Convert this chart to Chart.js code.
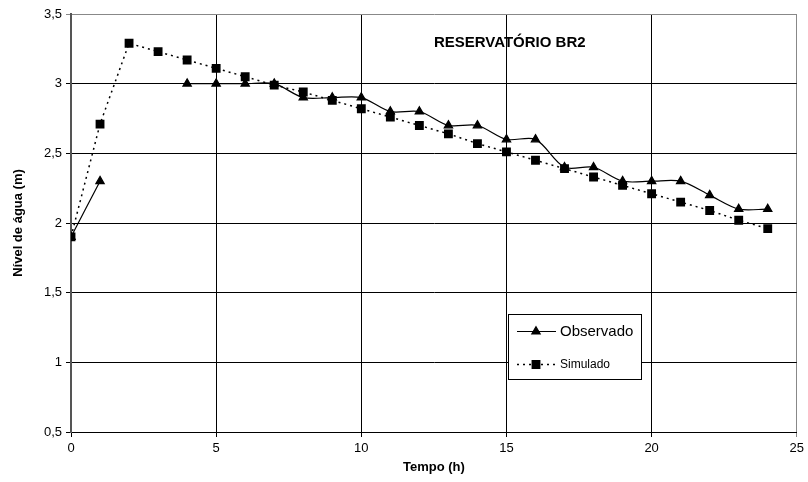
<!DOCTYPE html>
<html><head><meta charset="utf-8">
<script src="https://cdn.jsdelivr.net/npm/chart.js@4/dist/chart.umd.min.js"></script>
<style>html,body{margin:0;padding:0;background:#fff}#wrap{width:808px;height:482px}</style>
</head><body><div id="wrap"><canvas id="c" width="808" height="482"></canvas></div>
<script>
const chartTitle = "RESERVATÓRIO BR2";
const xTitle = "Tempo (h)";
const yTitle = "Nível de água (m)";
const hours = [0,1,2,3,4,5,6,7,8,9,10,11,12,13,14,15,16,17,18,19,20,21,22,23,24];
const observado = [1.9,2.3,null,null,3.0,3.0,3.0,3.0,2.9,2.9,2.9,2.8,2.8,2.7,2.7,2.6,2.6,2.4,2.4,2.3,2.3,2.3,2.2,2.1,2.1];
const simulado = [1.9,2.71,3.29,3.23,3.17,3.11,3.05,2.99,2.94,2.88,2.82,2.76,2.70,2.64,2.57,2.51,2.45,2.39,2.33,2.27,2.21,2.15,2.09,2.02,1.96];
const xTicks = [0,5,10,15,20,25];
const yTicks = [0.5,1,1.5,2,2.5,3,3.5];

const FONT = "'Liberation Sans', Arial, sans-serif";

const overlay = {
  id:'overlay',
  afterDraw(chart){
    const ctx = chart.ctx;
    const xs = chart.scales.x, ys = chart.scales.y;
    ctx.save();
    ctx.fillStyle = '#000';
    ctx.font = "bold 15px " + FONT;
    ctx.textAlign = 'left'; ctx.textBaseline = 'middle';
    ctx.fillText(chartTitle, xs.getPixelForValue(12.5), ys.getPixelForValue(3.29));
    const bx = Math.round(xs.getPixelForValue(15.04)), by = Math.round(ys.getPixelForValue(1.346));
    const bw = 133, bh = 65;
    ctx.fillStyle = '#fff';
    ctx.fillRect(bx, by, bw, bh);
    ctx.strokeStyle = '#000'; ctx.lineWidth = 1;
    ctx.strokeRect(bx + 0.5, by + 0.5, bw, bh);
    const ds = chart.data.datasets;
    const rows = [{y: by + 17, font: "15px " + FONT}, {y: by + 50, font: "12px " + FONT}];
    ds.forEach((d, i) => {
      const ry = Math.round(rows[i].y) + 0.5;
      ctx.strokeStyle = '#000'; ctx.lineWidth = d.borderWidth;
      ctx.setLineDash(d.borderDash || []);
      ctx.beginPath(); ctx.moveTo(bx + 9, ry); ctx.lineTo(bx + 48, ry); ctx.stroke();
      ctx.setLineDash([]);
      ctx.fillStyle = '#000';
      Chart.helpers.drawPoint(ctx, {pointStyle: d.pointStyle, radius: d.pointRadius, borderWidth: 1, rotation: 0}, bx + 28, ry);
      ctx.fillStyle = '#000';
      ctx.font = rows[i].font; ctx.textBaseline = 'middle'; ctx.textAlign = 'left';
      ctx.fillText(d.label, bx + 52, ry);
    });
    ctx.restore();
  }
};

new Chart(document.getElementById('c'), {
  type: 'line',
  data: {
    datasets: [
      {
        label: 'Observado',
        data: hours.map((h, i) => ({x: h, y: observado[i]})),
        borderColor: '#000', backgroundColor: '#000', borderWidth: 1.2,
        pointStyle: 'triangle', pointRadius: 4.8, pointBackgroundColor: '#000', pointBorderColor: '#000',
        tension: 0.3, spanGaps: false
      },
      {
        label: 'Simulado',
        data: hours.map((h, i) => ({x: h, y: simulado[i]})),
        borderColor: '#000', backgroundColor: '#000', borderWidth: 1.5, borderDash: [2, 4],
        pointStyle: 'rect', pointRadius: 5.2, pointBackgroundColor: '#000', pointBorderColor: '#000',
        tension: 0
      }
    ]
  },
  options: {
    responsive: false, animation: false,
    layout: {padding: {top: 14, right: 10, left: 0, bottom: 0}},
    plugins: {legend: {display: false}, tooltip: {enabled: false}, title: {display: false}},
    scales: {
      x: {
        type: 'linear', min: 0, max: 25,
        afterFit(s){ s.height = 50; },
        afterBuildTicks(s){ s.ticks = xTicks.map(v => ({value: v})); },
        ticks: {color: '#000', font: {family: FONT, size: 13}, padding: 4, maxRotation: 0},
        grid: {color: c => (c.tick && c.tick.value === 25) ? '#888' : '#000', lineWidth: 1, tickLength: 5, drawTicks: true},
        border: {display: true, color: '#000', width: 1},
        title: {display: true, text: xTitle, color: '#000', font: {family: FONT, size: 13, weight: 'bold'}, padding: {top: 0, bottom: 7}}
      },
      y: {
        type: 'linear', min: 0.5, max: 3.5,
        afterFit(s){ s.width = 71; },
        afterBuildTicks(s){ s.ticks = yTicks.map(v => ({value: v})); },
        ticks: {color: '#000', font: {family: FONT, size: 13}, padding: 4,
          callback: v => String(v).replace('.', ',')},
        grid: {color: c => (c.tick && c.tick.value === 3.5) ? '#888' : '#000', lineWidth: 1, tickLength: 5, drawTicks: true},
        border: {display: true, color: '#555', width: 2},
        title: {display: true, text: yTitle, color: '#000', font: {family: FONT, size: 13, weight: 'bold'}, padding: {top: 11, bottom: 0}}
      }
    }
  },
  plugins: [overlay]
});
</script></body></html>
